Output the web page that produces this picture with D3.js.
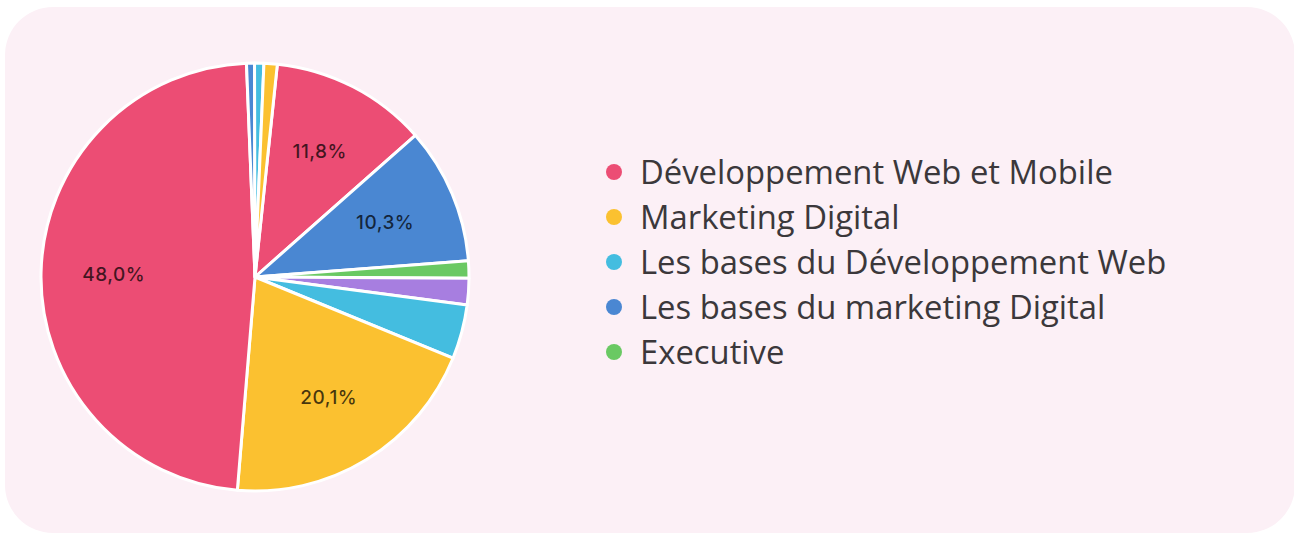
<!DOCTYPE html>
<html>
<head>
<meta charset="utf-8">
<script src="https://cdn.jsdelivr.net/npm/d3@7"></script>
<style>
  body { margin: 0; background: #fff; }
  svg { display: block; }
</style>
</head>
<body>
<div id="chart"></div>
<script>
// slices, clockwise from the top
var sliceNames = ["Développement Web et Mobile", "Les bases du marketing Digital", "Executive", "Autre",
    "Les bases du Développement Web", "Marketing Digital", "Développement Web et Mobile",
    "Les bases du marketing Digital", "Les bases du Développement Web", "Marketing Digital"];
var sliceValues = [11.8, 10.3, 1.3, 2.0, 4.1, 20.1, 48.0, 0.6, 0.7, 1.0];
var sliceColors = ["#ec4d74", "#4a87d2", "#6ac963", "#a77ee0", "#44bde0", "#fbc130", "#ec4d74",
    "#4a87d2", "#44bde0", "#fbc130"];

// legend
var legendLabels = ["Développement Web et Mobile", "Marketing Digital", "Les bases du Développement Web",
    "Les bases du marketing Digital", "Executive"];
var legendColors = ["#ec4d74", "#fbc130", "#44bde0", "#4a87d2", "#6ac963"];

var width = 1294, height = 535;
var cx = 255, cy = 277, radius = 214;

var svg = d3.select("#chart")
    .append("svg")
    .attr("width", width)
    .attr("height", height);

// card background
svg.append("rect")
    .attr("x", 5)
    .attr("y", 7)
    .attr("width", 1290)
    .attr("height", 526)
    .attr("rx", 48)
    .attr("fill", "#fcf0f6");

var start = 6 * Math.PI / 180;
var pie = d3.pie()
    .sort(null)
    .startAngle(start)
    .endAngle(start + 2 * Math.PI)
    .value(function (d) { return d; });

var arcs = pie(sliceValues);
var arc = d3.arc().innerRadius(0).outerRadius(radius);
var labelArc = d3.arc().innerRadius(radius * 0.66).outerRadius(radius * 0.66);

var g = svg.append("g")
    .attr("transform", "translate(" + cx + "," + cy + ")");

g.selectAll("path")
    .data(arcs)
    .enter()
    .append("path")
    .attr("d", arc)
    .attr("fill", function (d, i) { return sliceColors[i]; })
    .attr("stroke", "#fff")
    .attr("stroke-width", 3)
    .attr("stroke-linejoin", "round");

// percent labels on the big slices
g.selectAll("text")
    .data(arcs.filter(function (d) { return d.value >= 5; }))
    .enter()
    .append("text")
    .attr("transform", function (d) { return "translate(" + labelArc.centroid(d) + ")"; })
    .attr("text-anchor", "middle")
    .attr("dy", "0.35em")
    .style("font-family", "Inter, 'Noto Sans', sans-serif")
    .style("font-size", "19px")
    .style("font-weight", 500)
    .style("letter-spacing", "0.5px")
    .attr("fill", "#000")
    .attr("fill-opacity", 0.72)
    .text(function (d) { return d3.format(".1f")(d.value).replace(".", ",") + "%"; });

// legend
var legend = svg.append("g")
    .attr("transform", "translate(614,172)");

var item = legend.selectAll("g")
    .data(legendLabels)
    .enter()
    .append("g")
    .attr("transform", function (d, i) { return "translate(0," + (i * 45) + ")"; });

item.append("circle")
    .attr("r", 8)
    .attr("fill", function (d, i) { return legendColors[i]; });

item.append("text")
    .attr("x", 26)
    .attr("dy", "0.36em")
    .style("font-family", "'Open Sans', sans-serif")
    .style("font-size", "32.8px")
    .attr("fill", "#3b383b")
    .text(function (d) { return d; });
</script>
</body>
</html>
